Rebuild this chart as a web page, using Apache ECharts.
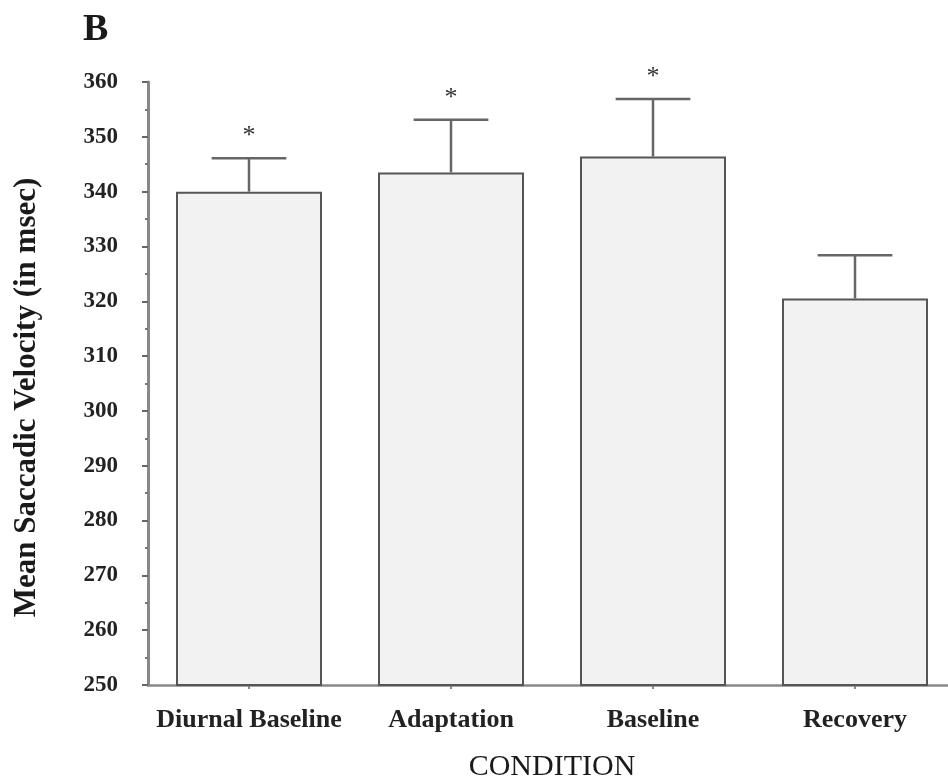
<!DOCTYPE html>
<html>
<head>
<meta charset="utf-8">
<script src="https://cdn.jsdelivr.net/npm/echarts@6/dist/echarts.min.js"></script>
<style>
  html, body { margin: 0; padding: 0; background: #fff; }
  #chart { width: 948px; height: 778px; }
</style>
</head>
<body>
<div id="chart"></div>
<script>
const categories = ['Diurnal Baseline', 'Adaptation', 'Baseline', 'Recovery'];
const means = [340, 343.5, 346.4, 320.5];
const errorUpper = [346.1, 353.1, 356.9, 328.4];
const significant = [true, true, true, false];
const yMin = 250, yMax = 360, yStep = 10;

const serif = '"Liberation Serif", "Times New Roman", serif';
const errData = categories.map((c, i) => [i, means[i], errorUpper[i], significant[i] ? 1 : 0]);

const chart = echarts.init(document.getElementById('chart'), null, { renderer: 'canvas' });
chart.setOption({
  animation: false,
  backgroundColor: '#ffffff',
  title: {
    text: 'B', left: 78, top: 6,
    textStyle: { fontFamily: serif, fontWeight: 'bold', fontSize: 38, color: '#1a1a1a' }
  },
  grid: { left: 148, width: 808, top: 82, bottom: 93, containLabel: false, outerBoundsMode: 'none' },
  xAxis: {
    type: 'category',
    data: categories,
    name: 'CONDITION',
    nameLocation: 'middle',
    nameGap: 67,
    nameTextStyle: { fontFamily: serif, fontSize: 30, color: '#1a1a1a' },
    axisLine: { lineStyle: { color: '#888', width: 2.5 } },
    axisTick: { show: true, alignWithLabel: true, length: 4, lineStyle: { color: '#888', width: 2 } },
    axisLabel: { interval: 0, fontFamily: serif, fontWeight: 'bold', fontSize: 26, color: '#222', margin: 22 },
    splitLine: { show: false }
  },
  yAxis: {
    type: 'value',
    min: yMin, max: yMax, interval: yStep,
    name: 'Mean Saccadic Velocity (in msec)',
    nameLocation: 'middle',
    nameGap: 106,
    nameRotate: 90,
    nameTextStyle: { fontFamily: serif, fontWeight: 'bold', fontSize: 31, color: '#1a1a1a', padding: [0, 28, 0, 0] },
    axisLine: { show: true, lineStyle: { color: '#888', width: 3 } },
    axisTick: { show: true, length: 6, lineStyle: { color: '#666', width: 2 } },
    minorTick: { show: true, splitNumber: 2, length: 3, lineStyle: { color: '#777', width: 2 } },
    axisLabel: { fontFamily: serif, fontWeight: 'bold', fontSize: 23, color: '#222', margin: 30 },
    splitLine: { show: false }
  },
  series: [
    {
      type: 'bar',
      data: means,
      barWidth: 146,
      itemStyle: { color: '#f2f2f2', borderColor: '#555', borderWidth: 2 },
      z: 2
    },
    {
      type: 'custom',
      data: errData,
      z: 3,
      renderItem: function (params, api) {
        const idx = api.value(0);
        const base = api.coord([idx, api.value(1)]);
        const top = api.coord([idx, api.value(2)]);
        const half = api.size([1, 0])[0] * 0.185;
        const style = { stroke: '#666', lineWidth: 2.5 };
        const children = [
          { type: 'line', shape: { x1: base[0], y1: base[1], x2: top[0], y2: top[1] }, style: style },
          { type: 'line', shape: { x1: top[0] - half, y1: top[1], x2: top[0] + half, y2: top[1] }, style: style }
        ];
        if (api.value(3)) {
          children.push({
            type: 'text',
            style: { text: '*', x: top[0], y: top[1] - 22, align: 'center', verticalAlign: 'middle',
              font: '26px ' + serif, fill: '#333' }
          });
        }
        return { type: 'group', children: children };
      }
    }
  ]
});
</script>
</body>
</html>
